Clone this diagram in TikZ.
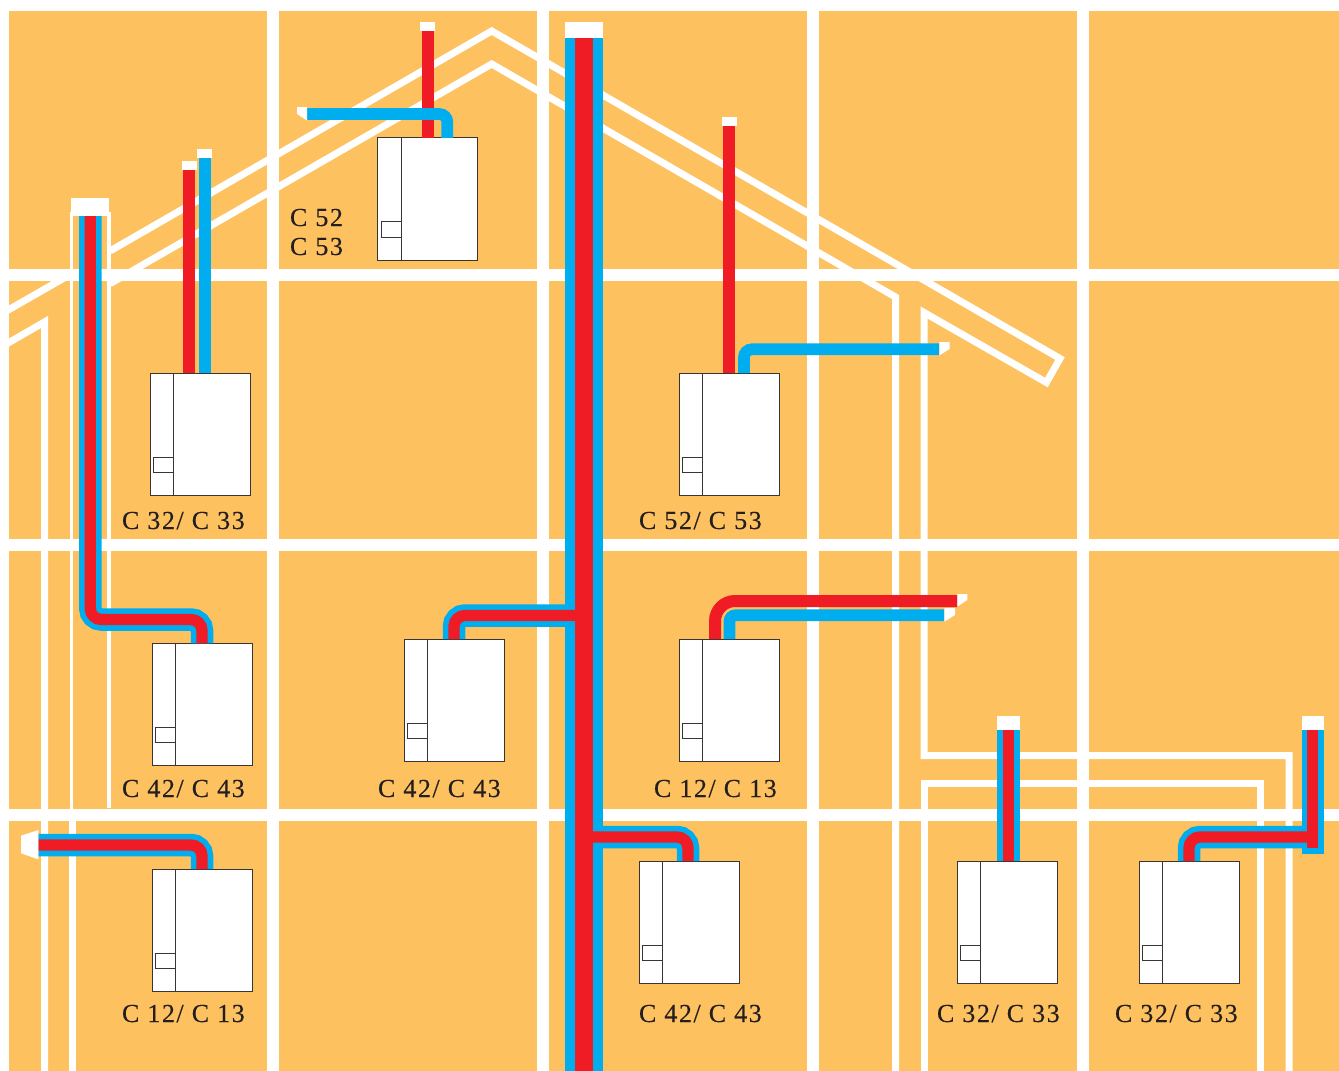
\documentclass[tikz,border=0pt]{standalone}
\usepackage{fontspec}
\setmainfont{Liberation Serif}[LetterSpace=6,FakeBold=0.25]
\definecolor{wallorange}{HTML}{FEC15F}
\definecolor{pipeblue}{HTML}{00AEEF}
\definecolor{pipered}{HTML}{EF1C25}
\definecolor{inkdark}{HTML}{3A3532}
\definecolor{textdark}{HTML}{231F20}
\tikzset{
  gridline/.style={white,line width=12pt},
  roofline/.style={white,line width=7pt,miter limit=10},
  thinwall/.style={white,line width=3.6pt},
  bluemain/.style={pipeblue,line width=38pt},
  redmain/.style={pipered,line width=17.6pt},
  bluefat/.style={pipeblue,line width=22.5pt},
  redthin/.style={pipered,line width=11.3pt},
  bluethin/.style={pipeblue,line width=11.7pt},
  bluesolo/.style={pipeblue,line width=12pt},
  redsolo/.style={pipered,line width=12pt},
  pipebend/.style={rounded corners=11pt},
  capfill/.style={fill=white},
  boilerbox/.style={draw=inkdark,fill=white,line width=1pt,minimum width=100pt,minimum height=122.5pt,inner sep=0pt,outer sep=0pt,anchor=north west},
  boilerline/.style={draw=inkdark,line width=1pt},
  modeltext/.style={text=textdark,font=\fontsize{26}{26}\selectfont,anchor=base west,inner sep=0pt,outer sep=0pt}
}
\newcommand{\boilerunit}[3]{%
  \node[boilerbox] (#1) at (#2,#3) {};
  \draw[boilerline] ([xshift=23.3pt]#1.north west) -- ([xshift=23.3pt]#1.south west);
  \draw[boilerline] ([xshift=3.8pt,yshift=-84pt]#1.north west) rectangle ([xshift=23.3pt,yshift=-99.6pt]#1.north west);
}
\begin{document}
\begin{tikzpicture}[x=1pt,y=-1pt]
\useasboundingbox (0,0) rectangle (1339,1071);
\fill[white] (0,0) rectangle (1339,1071);
\fill[wallorange] (9,11) rectangle (1339,1071);
\begin{scope}
\clip (9,11) rectangle (1339,1071);
% roof and walls
\draw[roofline] (0,314.7) -- (71,274);
\draw[roofline] (110,251) -- (491.7,31) -- (1060,358.5) -- (1046.4,382.5) -- (924,312.5) -- (924,755.5) -- (1289,755.5) -- (1289,1080);
\draw[roofline] (0,347.7) -- (44.5,322) -- (44.5,1080);
\draw[roofline] (110,283.7) -- (491.7,64) -- (895.5,297) -- (895.5,1080);
\draw[roofline] (924,1080) -- (924,783.5) -- (1260.7,783.5) -- (1260.7,1080);
\draw[thinwall] (71.3,815) -- (71.3,213.7) -- (109.2,213.7) -- (109.2,808);
\draw[roofline] (72.5,815) -- (72.5,1080);
% grid
\foreach \gx in {273,543,813,1083} \draw[gridline] (\gx,0) -- (\gx,1071);
\foreach \gy in {275,545,815} \draw[gridline] (0,\gy) -- (1339,\gy);
\end{scope}
% boilers
\boilerunit{bRoof}{377.7}{137.8}
\boilerunit{bUpperL}{150}{373}
\boilerunit{bUpperR}{679}{373}
\boilerunit{bMidL}{152}{643.3}
\boilerunit{bMidC}{404}{639}
\boilerunit{bMidR}{679}{639}
\boilerunit{bLowL}{152}{869}
\boilerunit{bLowC}{639}{861}
\boilerunit{bLowR}{957}{861}
\boilerunit{bLowFar}{1139}{861}
% free ends and bends
\coordinate (mainTop) at (584,38);
\coordinate (mainEnd) at (584,1075);
\coordinate (mainMid) at (584,615.5);
\coordinate (mainLow) at (584,837);
\coordinate (kneeMid) at (454,615.5);
\coordinate (kneeLow) at (688,837);
\coordinate (chimTop) at (90.3,216);
\coordinate (chimA) at (90.3,619.5);
\coordinate (chimB) at (202,619.5);
\coordinate (wallIn) at (38.3,845);
\coordinate (wallKnee) at (202,845);
\coordinate (upRed) at (189,170);
\coordinate (upBlue) at (205,158);
\coordinate (roofRed) at (428,31);
\coordinate (roofBlue) at (307,114);
\coordinate (roofKnee) at (447.3,114);
\coordinate (ctrRedEnd) at (957.3,601);
\coordinate (ctrRedKnee) at (715,601);
\coordinate (ctrBlueEnd) at (944.3,615.3);
\coordinate (ctrBlueKnee) at (729.5,615.3);
\coordinate (rRed) at (729,126);
\coordinate (rBlueEnd) at (939.3,349.3);
\coordinate (rBlueKnee) at (744,349.3);
\coordinate (lowTop) at (1008.5,730);
\coordinate (farTop) at (1312.8,730);
\coordinate (farBlueEnd) at (1312.8,854);
\coordinate (farRedEnd) at (1312.8,847.7);
\coordinate (farJoin) at (1312.8,837);
\coordinate (farKnee) at (1189,837);
% blue layers
\draw[bluemain] (mainTop) -- (mainEnd);
\draw[bluefat,pipebend] (bMidC.north -| kneeMid) -- (kneeMid) -- (mainMid);
\draw[bluefat,pipebend] (mainLow) -- (kneeLow) -- (bLowC.north -| kneeLow);
\draw[bluefat,pipebend] (chimTop) -- (chimA) -- (chimB) -- (bMidL.north -| chimB);
\draw[bluefat,pipebend] (wallIn) -- (wallKnee) -- (bLowL.north -| wallKnee);
\draw[bluefat] (lowTop) -- (bLowR.north -| lowTop);
\draw[bluefat] (farTop) -- (farBlueEnd);
\draw[bluefat,pipebend] (farJoin) -- (farKnee) -- (bLowFar.north -| farKnee);
% red layers
\draw[redmain] (mainTop) -- (mainEnd);
\draw[redthin,pipebend] (bMidC.north -| kneeMid) -- (kneeMid) -- (mainMid);
\draw[redthin,pipebend] (mainLow) -- (kneeLow) -- (bLowC.north -| kneeLow);
\draw[redthin,pipebend] (chimTop) -- (chimA) -- (chimB) -- (bMidL.north -| chimB);
\draw[redthin,pipebend] (wallIn) -- (wallKnee) -- (bLowL.north -| wallKnee);
\draw[redthin] (lowTop) -- (bLowR.north -| lowTop);
\draw[redthin] (farTop) -- (farRedEnd);
\draw[redthin,pipebend] (farJoin) -- (farKnee) -- (bLowFar.north -| farKnee);
% single pipes
\draw[redsolo] (upRed) -- (bUpperL.north -| upRed);
\draw[bluesolo] (upBlue) -- (bUpperL.north -| upBlue);
\draw[redsolo] (roofRed) -- (bRoof.north -| roofRed);
\draw[bluethin,rounded corners=8pt] (roofBlue) -- (roofKnee) -- (bRoof.north -| roofKnee);
\draw[redsolo,rounded corners=20pt] (ctrRedEnd) -- (ctrRedKnee) -- (bMidR.north -| ctrRedKnee);
\draw[bluethin,rounded corners=6pt] (ctrBlueEnd) -- (ctrBlueKnee) -- (bMidR.north -| ctrBlueKnee);
\draw[redsolo] (rRed) -- (bUpperR.north -| rRed);
\draw[bluethin,rounded corners=8pt] (rBlueEnd) -- (rBlueKnee) -- (bUpperR.north -| rBlueKnee);
% terminal caps
\fill[capfill] (565,22) rectangle (603,38);
\fill[capfill] (71,198) rectangle (109,216);
\fill[capfill] (182,161) rectangle (197,170);
\fill[capfill] (197,149) rectangle (212,158);
\fill[capfill] (420,22) rectangle (435,31);
\fill[capfill] (722,117) rectangle (737,126);
\fill[capfill] (997,716) rectangle (1020,730);
\fill[capfill] (1301.7,716) rectangle (1324,730);
\fill[capfill] (297,107) -- (307,107) -- (307,120.5) -- (297,114) -- cycle;
\fill[capfill] (21,835.7) -- (38.3,830) -- (38.3,859.3) -- (21,853.3) -- cycle;
\fill[capfill] (957.3,594) -- (967.3,594) -- (967.3,600) -- (957.3,606.7) -- cycle;
\fill[capfill] (944.3,608) -- (955,608) -- (955,615) -- (944.3,621.7) -- cycle;
\fill[capfill] (939.3,342) -- (949.5,342) -- (949.5,349) -- (939.3,355.5) -- cycle;
% labels
\node[modeltext] (lRoofA) at (290,226) {C 52};
\node[modeltext] (lRoofB) at (290,255) {C 53};
\node[modeltext] (lUpL) at (122,529) {C 32/ C 33};
\node[modeltext] (lUpR) at (639,529) {C 52/ C 53};
\node[modeltext] (lMidL) at (122,797) {C 42/ C 43};
\node[modeltext] (lMidC) at (378,797) {C 42/ C 43};
\node[modeltext] (lMidR) at (654,797) {C 12/ C 13};
\node[modeltext] (lLowL) at (122,1022) {C 12/ C 13};
\node[modeltext] (lLowC) at (639,1022) {C 42/ C 43};
\node[modeltext] (lLowR) at (937,1022) {C 32/ C 33};
\node[modeltext] (lLowFar) at (1115,1022) {C 32/ C 33};
\end{tikzpicture}
\end{document}
